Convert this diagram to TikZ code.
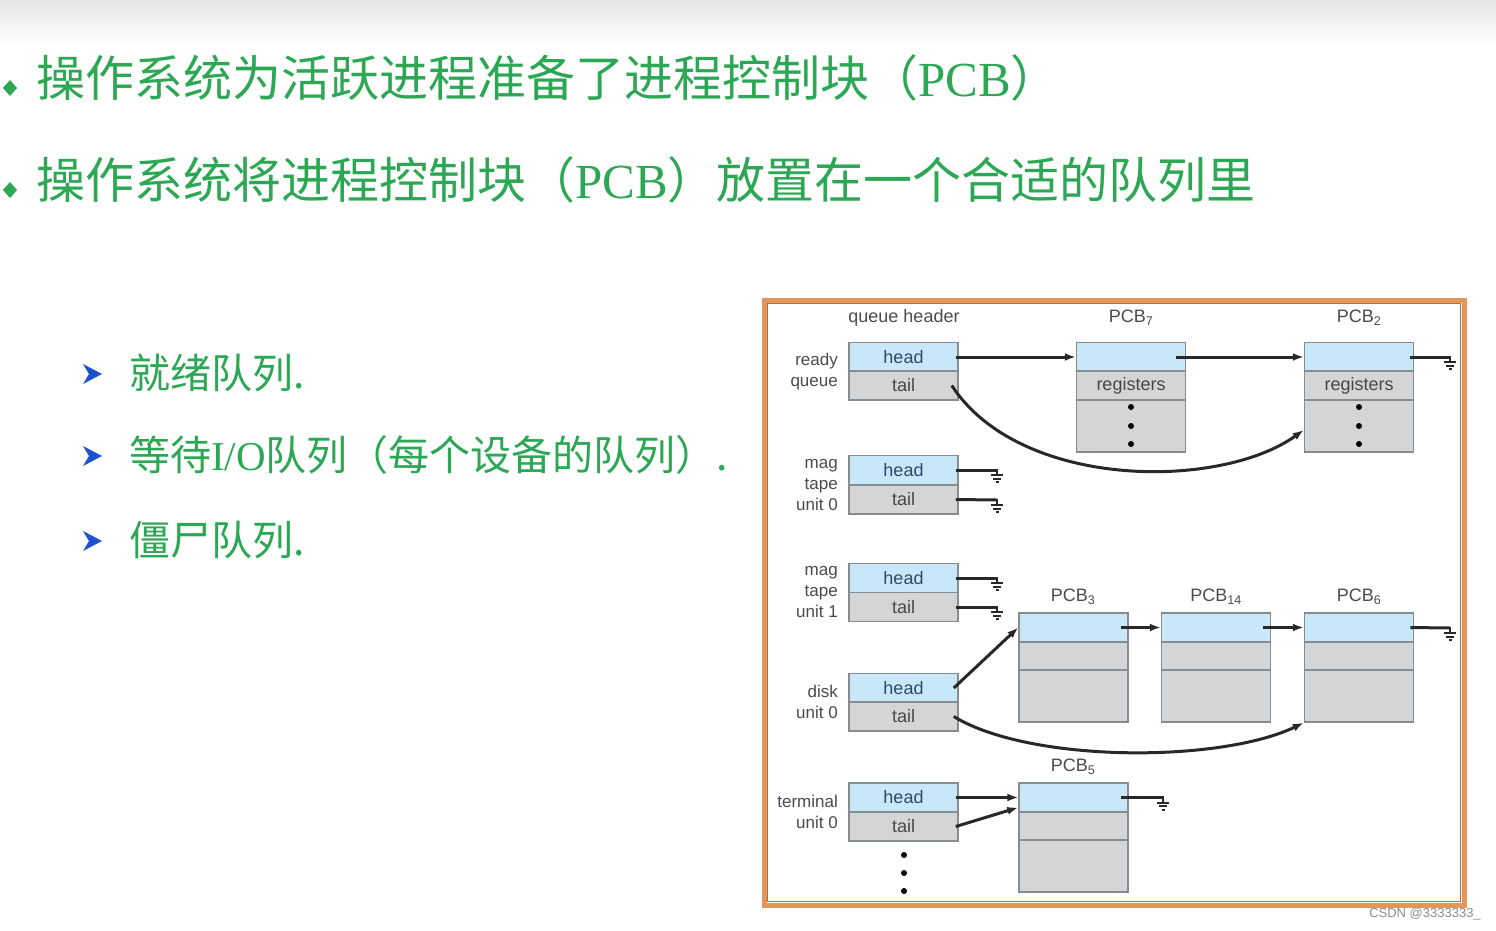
\documentclass[tikz,border=0pt]{standalone}
\usepackage{fontspec}
\setmainfont{Liberation Sans}
\newfontfamily\cjk{Noto Sans CJK SC}
\newfontfamily\serifl{Liberation Serif}
\usetikzlibrary{arrows.meta,shapes.geometric}
\definecolor{tgreen}{RGB}{44,168,84}
\definecolor{hblue}{RGB}{200,232,250}
\definecolor{cgray}{RGB}{212,213,215}
\definecolor{bgray}{RGB}{135,140,145}
\definecolor{headtxt}{RGB}{45,75,105}
\definecolor{tailtxt}{RGB}{70,70,70}
\definecolor{lbltxt}{RGB}{75,75,75}
\definecolor{linec}{RGB}{40,40,40}
\definecolor{frameor}{RGB}{228,150,90}
\definecolor{framedk}{RGB}{185,110,55}
\definecolor{arrowblue}{RGB}{30,80,210}
\begin{document}
\begin{tikzpicture}[x=1pt,y=-1pt,
 cellb/.style={draw=bgray, line width=1.5pt, fill=hblue, minimum width=109pt, minimum height=29pt, inner sep=0pt, font=\fontsize{18}{20}\selectfont, text=headtxt},
 cellg/.style={cellb, fill=cgray, text=tailtxt},
 lbl/.style={anchor=east, align=right, text=lbltxt, font=\fontsize{17}{21}\selectfont, inner sep=0pt},
 pcbl/.style={text=lbltxt, font=\fontsize{18}{20}\selectfont, inner sep=0pt},
 link/.style={draw=linec, line width=3pt},
 arr/.style={link, -{Latex[length=11pt,width=8pt]}},
 dotn/.style={circle, fill=black, inner sep=0pt, minimum size=6pt},
 gnd/.pic={\draw[linec, line width=2pt] (0,-1.5)--(0,5) (-6,5)--(6,5) (-4,8.5)--(4,8.5) (-1.5,12)--(1.5,12);},
 title/.style={anchor=west, inner sep=0pt, text=tgreen, font=\fontsize{49}{55}\selectfont\cjk},
 sub/.style={anchor=west, inner sep=0pt, text=tgreen, font=\fontsize{41}{46}\selectfont\cjk}
]
\useasboundingbox (0,0) rectangle (1496,930);
\fill[white] (0,0) rectangle (1496,930);
\shade[top color=black!10, bottom color=white] (0,0) rectangle (1496,45);

% titles
\fill[tgreen] (10,80) -- (17,88) -- (10,96) -- (3,88) -- cycle;
\node[title] (t1) at (36,78) {操作系统为活跃进程准备了进程控制块（{\serifl PCB}）};
\fill[tgreen] (10,182) -- (17,190) -- (10,198) -- (3,190) -- cycle;
\node[title] (t2) at (36,180) {操作系统将进程控制块（{\serifl PCB}）放置在一个合适的队列里};

% sub bullets
\foreach \yy in {374,456,541}{
  \fill[arrowblue] (83,\yy-10) -- (102,\yy) -- (83,\yy+10) -- (89,\yy) -- cycle;
}
\node[sub] (s1) at (129,373) {就绪队列.};
\node[sub] (s2) at (129,455) {等待{\serifl I/O}队列（每个设备的队列）.};
\node[sub] (s3) at (129,540) {僵尸队列.};

% frame
\draw[frameor, line width=5pt] (764,300) rectangle (1464,905);
\draw[framedk, line width=1.2pt] (767.5,303.5) rectangle (1460.5,901.5);

% header labels
\node[pcbl] (qh) at (904,318) {queue header};
\node[pcbl] (l7) at (1131,318) {PCB\textsubscript{7}};
\node[pcbl] (l2) at (1359,318) {PCB\textsubscript{2}};
\node[pcbl] (l3) at (1073,597) {PCB\textsubscript{3}};
\node[pcbl] (l14) at (1216,597) {PCB\textsubscript{14}};
\node[pcbl] (l6) at (1359,597) {PCB\textsubscript{6}};
\node[pcbl] (l5) at (1073,767) {PCB\textsubscript{5}};

% queue names
\node[lbl] (nready) at (838,372) {ready\\queue};
\node[lbl] (nmag0) at (838,485) {mag\\tape\\unit 0};
\node[lbl] (nmag1) at (838,592) {mag\\tape\\unit 1};
\node[lbl] (ndisk) at (838,702) {disk\\unit 0};
\node[lbl] (nterm) at (838,812) {terminal\\unit 0};

% queue headers
\node[cellb] (rh) at (903.5,357) {head};
\node[cellg] (rt) at (903.5,385.5) {tail};
\node[cellb] (m0h) at (903.5,470) {head};
\node[cellg] (m0t) at (903.5,499.5) {tail};
\node[cellb] (m1h) at (903.5,578) {head};
\node[cellg] (m1t) at (903.5,607) {tail};
\node[cellb] (dh) at (903.5,688) {head};
\node[cellg] (dt) at (903.5,716.5) {tail};
\node[cellb] (th) at (903.5,797.5) {head};
\node[cellg] (tt) at (903.5,826.5) {tail};

% PCBs
\node[cellb] (p7a) at (1131,357) {};
\node[cellg] (p7b) at (1131,385.5) {registers};
\node[cellg, minimum height=52pt] (p7c) at (1131,426) {};
\node[cellb] (p2a) at (1359,357) {};
\node[cellg] (p2b) at (1359,385.5) {registers};
\node[cellg, minimum height=52pt] (p2c) at (1359,426) {};
\foreach \p/\xx in {3/1073.5,14/1216,6/1359}{
  \node[cellb] (p\p a) at (\xx,627.5) {};
  \node[cellg, minimum height=28pt] (p\p b) at (\xx,656) {};
  \node[cellg, minimum height=52pt] (p\p c) at (\xx,696) {};
}
\node[cellb] (p5a) at (1073.5,797.5) {};
\node[cellg, minimum height=28pt] (p5b) at (1073.5,826) {};
\node[cellg, minimum height=52pt] (p5c) at (1073.5,866) {};

% dots
\foreach \xx/\nm in {1131/a,1359/b}{
  \foreach \yy/\k in {407/1,426/2,444/3}{ \node[dotn] (d\nm\k) at (\xx,\yy) {}; }
}
\foreach \yy/\k in {855/1,873/2,891/3}{ \node[dotn] (dt\k) at (904,\yy) {}; }

% ground coordinates
\coordinate (g1) at (1450,357);
\coordinate (g2) at (997,470);
\coordinate (g3) at (997,500);
\coordinate (g4) at (997,578);
\coordinate (g5) at (997,607);
\coordinate (g6) at (1450,628);
\coordinate (g7) at (1163,797.5);

% ready queue
\draw[arr] ([xshift=-3pt]rh.east) -- (p7a.west);
\draw[arr] ([xshift=-10pt]p7a.east) -- (p2a.west);
\draw[link] ([xshift=-4pt]p2a.east) -- (g1); \pic at (g1) {gnd};
\draw[arr] ([xshift=-7pt]rt.east) .. controls (1020,490) and (1220,490) .. ([yshift=-4pt]p2c.west);

% mag tapes
\draw[link] ([xshift=-3pt]m0h.east) -- (g2); \pic at (g2) {gnd};
\draw[link] ([xshift=-3pt]m0t.east) -- (g3); \pic at (g3) {gnd};
\draw[link] ([xshift=-3pt]m1h.east) -- (g4); \pic at (g4) {gnd};
\draw[link] ([xshift=-3pt]m1t.east) -- (g5); \pic at (g5) {gnd};

% disk
\draw[arr] ([xshift=-5pt]dh.east) -- (p3a.west);
\draw[arr] ([xshift=-8pt]p3a.east) -- (p14a.west);
\draw[arr] ([xshift=-8pt]p14a.east) -- (p6a.west);
\draw[link] ([xshift=-4pt]p6a.east) -- (g6); \pic at (g6) {gnd};
\draw[arr] ([xshift=-5pt]dt.east) .. controls (1030,763) and (1220,763) .. (p6c.south west);

% terminal
\draw[arr] ([xshift=-3pt]th.east) -- (p5a.west);
\draw[arr] ([xshift=-3pt]tt.east) -- ([yshift=-10pt]p5a.west);
\draw[link] ([xshift=-8pt]p5a.east) -- (g7); \pic at (g7) {gnd};

% watermark
\node[text=black!45, font=\fontsize{13}{14}\selectfont, inner sep=0pt] (wm) at (1425,914) {CSDN @3333333\_};
\end{tikzpicture}
\end{document}
